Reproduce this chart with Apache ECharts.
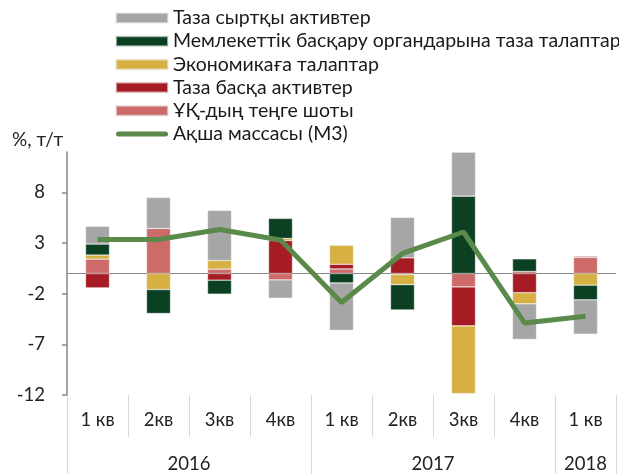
<!DOCTYPE html>
<html>
<head>
<meta charset="utf-8">
<script src="https://cdn.jsdelivr.net/npm/echarts@6/dist/echarts.min.js"></script>
<style>
  html, body { margin: 0; padding: 0; background: #fff; }
  #chart { width: 619px; height: 474px; }
</style>
</head>
<body>
<div id="chart"></div>
<script>
  // кварталдар
  var quarters = ['1 кв', '2кв', '3кв', '4кв', '1 кв', '2кв', '3кв', '4кв', '1 кв'];
  var yearLabels = { 2: '2016', 6: '2017', 8.5: '2018' };
  var yearBounds = [0, 4, 8, 9];
  var yTicks = [-12, -7, -2, 3, 8];

  // серия мәндері (%, т/т)
  var accountKZ = [1.42, 4.45, 0.43, -0.63, 0.45, -0.1, -1.32, 0.2, 1.6];
  var otherAssets = [-1.42, 0, -0.66, 3.26, 0.46, 1.55, -3.85, -1.9, 0.1];
  var economy = [0.4, -1.58, 0.86, 0.2, 1.88, -1.0, -6.69, -1.09, -1.15];
  var government = [1.09, -2.37, -1.38, 1.98, -0.93, -2.5, 7.64, 1.25, -1.45];
  var foreignAssets = [1.75, 3.06, 4.94, -1.81, -4.68, 3.99, 4.35, -3.52, -3.39];
  var m3 = [3.36, 3.36, 4.35, 3.3, -2.87, 1.98, 4.1, -4.88, -4.22];

  var fontFamily = 'Lato';
  var chart = echarts.init(document.getElementById('chart'));

  function barSeries(name, data, color) {
    return {
      name: name,
      type: 'bar',
      stack: 'total',
      barWidth: 24,
      data: data,
      itemStyle: { color: color, borderColor: 'rgba(235,235,235,0.6)', borderWidth: 0.6 }
    };
  }

  var series = [
    barSeries('ҰҚ-дың теңге шоты', accountKZ, '#CD6B6B'),
    barSeries('Таза басқа активтер', otherAssets, '#A61C24'),
    barSeries('Экономикаға талаптар', economy, '#D6B042'),
    barSeries('Мемлекеттік басқару органдарына таза талаптар', government, '#0B4023'),
    barSeries('Таза сыртқы активтер', foreignAssets, '#A6A6A6'),
    {
      name: 'Ақша массасы (М3)',
      type: 'line',
      data: m3,
      symbol: 'none',
      z: 10,
      emphasis: { disabled: true },
      lineStyle: { color: '#5A8A4A', width: 5 },
      itemStyle: { color: '#5A8A4A' }
    }
  ];
  // нөлдік сызық
  series[0].markLine = {
    silent: true,
    symbol: 'none',
    z: 1,
    label: { show: false },
    lineStyle: { color: '#888', width: 1, type: 'solid' },
    data: [{ yAxis: 0 }]
  };

  var option = {
    animation: false,
    textStyle: { fontFamily: fontFamily },
    title: {
      text: '%, т/т',
      left: 7,
      top: 125,
      textStyle: { fontFamily: fontFamily, fontSize: 19, fontWeight: 'normal', color: '#222' }
    },
    legend: {
      orient: 'vertical',
      left: 115,
      top: 8,
      padding: 0,
      itemWidth: 52,
      itemHeight: 10,
      itemGap: 3.2,
      textStyle: { fontFamily: fontFamily, fontSize: 19.5, lineHeight: 20, color: '#1a1a1a' },
      data: [
        { name: 'Таза сыртқы активтер', icon: 'rect' },
        { name: 'Мемлекеттік басқару органдарына таза талаптар', icon: 'rect' },
        { name: 'Экономикаға талаптар', icon: 'rect' },
        { name: 'Таза басқа активтер', icon: 'rect' },
        { name: 'ҰҚ-дың теңге шоты', icon: 'rect' },
        { name: 'Ақша массасы (М3)', icon: 'path://M2.5,0 H49.5 A2.5,2.5 0 0 1 49.5,5 H2.5 A2.5,2.5 0 0 1 2.5,0 Z' }
      ]
    },
    grid: { left: 67, right: 3, top: 152, bottom: 79, containLabel: false },
    xAxis: [{
      type: 'category',
      data: quarters,
      axisLine: { show: false, onZero: false },
      axisTick: { show: true, interval: 0, length: 42, lineStyle: { color: '#d9d9d9' } },
      axisLabel: { interval: 0, margin: 16, fontSize: 18.5, color: '#222', fontFamily: fontFamily }
    }, {
      type: 'value',
      position: 'bottom',
      min: 0,
      max: 9,
      axisLine: { show: false, onZero: false },
      splitLine: { show: false },
      axisTick: { show: true, customValues: yearBounds, length: 79, lineStyle: { color: '#d9d9d9' } },
      axisLabel: {
        customValues: [2, 6, 8.5],
        margin: 60,
        fontSize: 18.5,
        color: '#222',
        fontFamily: fontFamily,
        formatter: function (v) { return yearLabels[v] || ''; }
      }
    }],
    yAxis: {
      type: 'value',
      min: -12,
      max: 12,
      axisLine: { show: true, lineStyle: { color: '#868686', width: 1.5 } },
      axisTick: { show: true, customValues: yTicks, length: 5, lineStyle: { color: '#868686', width: 1.5 } },
      axisLabel: { customValues: yTicks, margin: 22, fontSize: 18.5, color: '#222', fontFamily: fontFamily },
      splitLine: { show: false }
    },
    series: series
  };

  chart.setOption(option);
</script>
</body>
</html>
